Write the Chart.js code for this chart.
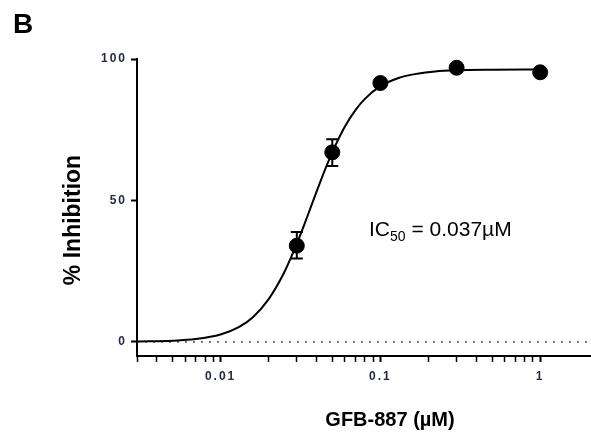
<!DOCTYPE html>
<html>
<head>
<meta charset="utf-8">
<script src="https://cdn.jsdelivr.net/npm/chart.js@4.4.0/dist/chart.umd.min.js"></script>
<style>
  html, body { margin: 0; padding: 0; background: #fff; }
</style>
</head>
<body>
<canvas id="graficoIC50" width="591" height="443"></canvas>
<script>
// dose (uM) and % inhibition
const doses = [0.03, 0.05, 0.1, 0.3, 1];
const inhibition = [34, 67, 91.5, 96.9, 95.3];
const errLow = [29.5, 62.2, null, null, null];
const errHigh = [38.8, 71.6, null, null, null];

// fitted curve, points
const curveX = [0.003, 0.005, 0.007, 0.01, 0.013, 0.016, 0.02, 0.025, 0.03, 0.035, 0.04, 0.045, 0.05, 0.06, 0.07, 0.08, 0.1, 0.13, 0.17, 0.22, 0.3, 0.5, 1];
const curveY = [0.1, 0.4, 1.0, 2.6, 5.2, 8.8, 15.1, 24.5, 34.7, 44.5, 53.3, 60.8, 67.0, 76.1, 82.0, 85.9, 90.4, 93.3, 94.8, 95.6, 96.0, 96.2, 96.3];

// dotted zero line
const zeroX = [0.003, 2.05];
const zeroY = [0, 0];

// axis ticks
const xTicks = [0.003, 0.004, 0.005, 0.006, 0.007, 0.008, 0.009, 0.01,
                0.02, 0.03, 0.04, 0.05, 0.06, 0.07, 0.08, 0.09, 0.1,
                0.2, 0.3, 0.4, 0.5, 0.6, 0.7, 0.8, 0.9, 1];
const xMajor = [0.01, 0.1, 1];
const xMajorLabels = ['0.01', '0.1', '1'];
const yTicks = [0, 50, 100];
const yTickLabels = ['0', '50', '100'];

const tickColor = '#1f2742';
const family = "'Liberation Sans', Arial, sans-serif";

const extras = {
    id: 'extras',
    beforeDraw(chart) {
        chart.ctx.letterSpacing = '2px';
    },
    beforeDatasetsDraw(chart) {
        chart.ctx.letterSpacing = '0px';
    },
    afterDatasetsDraw(chart) {
        const ctx = chart.ctx;
        const x = chart.scales.x;
        const y = chart.scales.y;
        ctx.save();
        ctx.letterSpacing = '0px';

        // error bars
        ctx.strokeStyle = '#000';
        ctx.lineWidth = 2;
        doses.forEach((d, i) => {
            if (errLow[i] == null) return;
            const px = x.getPixelForValue(d);
            const lo = y.getPixelForValue(errLow[i]);
            const hi = y.getPixelForValue(errHigh[i]);
            ctx.beginPath();
            ctx.moveTo(px, lo); ctx.lineTo(px, hi);
            ctx.moveTo(px - 6, lo); ctx.lineTo(px + 6, lo);
            ctx.moveTo(px - 6, hi); ctx.lineTo(px + 6, hi);
            ctx.stroke();
        });

        ctx.fillStyle = '#000';
        ctx.textBaseline = 'alphabetic';

        // panel letter
        ctx.font = 'bold 28px ' + family;
        ctx.textAlign = 'left';
        ctx.fillText('B', 13, 33);

        // x title
        ctx.font = 'bold 20px ' + family;
        ctx.textAlign = 'center';
        ctx.fillText('GFB-887 (\u00b5M)', 390, 426);

        // y title
        ctx.save();
        ctx.font = 'bold 23px ' + family;
        ctx.translate(80, 220);
        ctx.rotate(-Math.PI / 2);
        ctx.textAlign = 'center';
        ctx.fillText('% Inhibition', 0, 0);
        ctx.restore();

        // IC50 note
        ctx.textAlign = 'left';
        let tx = 369;
        ctx.font = '21px ' + family;
        ctx.fillText('IC', tx, 236);
        tx += ctx.measureText('IC').width;
        ctx.font = '14px ' + family;
        ctx.fillText('50', tx, 241);
        tx += ctx.measureText('50').width;
        ctx.font = '21px ' + family;
        ctx.fillText(' = 0.037\u00b5M', tx, 236);

        ctx.restore();
    }
};

const ctx = document.getElementById('graficoIC50').getContext('2d');
new Chart(ctx, {
    type: 'scatter',
    data: {
        datasets: [
            {
                label: 'dados',
                data: doses.map((d, i) => ({ x: d, y: inhibition[i] })),
                backgroundColor: '#000',
                borderColor: '#000',
                pointRadius: 7.5,
                showLine: false
            },
            {
                label: 'curva',
                data: curveX.map((d, i) => ({ x: d, y: curveY[i] })),
                showLine: true,
                borderColor: '#000',
                borderWidth: 2,
                pointRadius: 0,
                cubicInterpolationMode: 'monotone'
            },
            {
                label: 'zero',
                data: zeroX.map((d, i) => ({ x: d, y: zeroY[i] })),
                showLine: true,
                borderColor: '#666',
                borderWidth: 1.8,
                borderDash: [2, 6],
                pointRadius: 0
            }
        ]
    },
    options: {
        responsive: false,
        animation: false,
        layout: { autoPadding: false, padding: { top: 59, right: 1, left: 0, bottom: 0 } },
        plugins: { legend: { display: false }, tooltip: { enabled: false } },
        scales: {
            x: {
                type: 'logarithmic',
                min: 0.003,
                max: 2.05,
                afterBuildTicks: s => { s.ticks = xTicks.map(v => ({ value: v })); },
                afterFit: s => {
                    s.height = 87;
                    s.paddingLeft = 0;
                    s.paddingRight = 0;
                },
                border: { color: '#000', width: 2 },
                grid: {
                    drawOnChartArea: false,
                    drawTicks: true,
                    tickLength: 6,
                    color: '#000',
                    tickWidth: c => (xMajor.includes(c.tick && c.tick.value) ? 2 : 1.5)
                },
                ticks: {
                    autoSkip: false,
                    maxRotation: 0,
                    padding: 7,
                    color: tickColor,
                    font: { family: family, size: 12, weight: 'bold' },
                    callback: v => {
                        const k = xMajor.indexOf(v);
                        return k >= 0 ? xMajorLabels[k] : '';
                    }
                }
            },
            y: {
                min: -5,
                max: 100,
                afterBuildTicks: s => { s.ticks = yTicks.map(v => ({ value: v })); },
                afterFit: s => {
                    s.width = 137;
                    s.paddingTop = 0;
                    s.paddingBottom = 0;
                },
                border: { color: '#000', width: 2 },
                grid: {
                    drawOnChartArea: false,
                    drawTicks: true,
                    tickLength: 6,
                    color: '#000',
                    tickWidth: 2
                },
                ticks: {
                    padding: 4,
                    color: tickColor,
                    font: { family: family, size: 12, weight: 'bold' },
                    callback: v => {
                        const k = yTicks.indexOf(v);
                        return k >= 0 ? yTickLabels[k] : '';
                    }
                }
            }
        }
    },
    plugins: [extras]
});
</script>
</body>
</html>
